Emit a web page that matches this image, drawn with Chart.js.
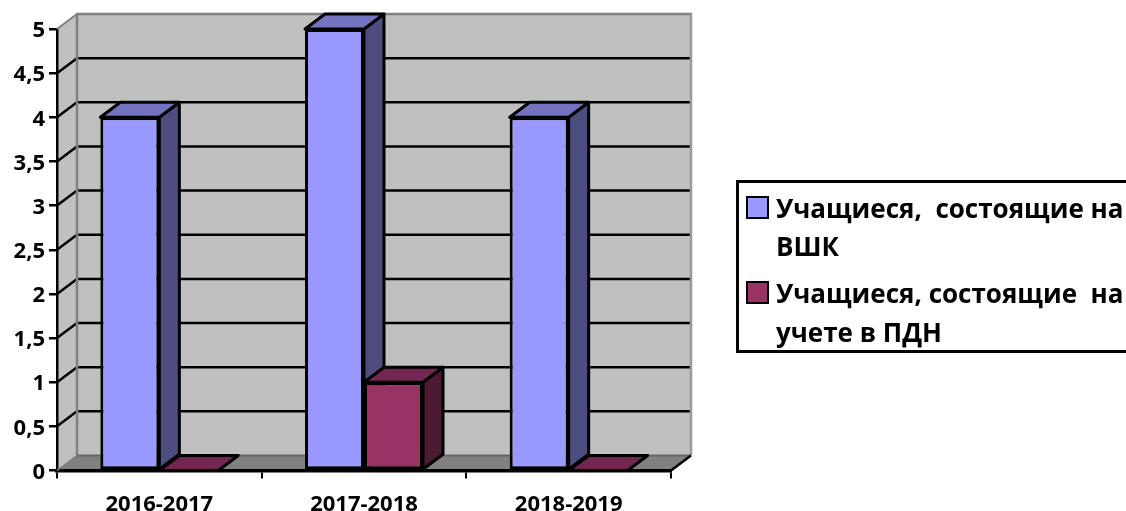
<!DOCTYPE html>
<html lang="ru">
<head>
<meta charset="utf-8">
<title>Учащиеся на учете</title>
<script src="https://cdn.jsdelivr.net/npm/chart.js@4"></script>
<style>
    html, body { margin: 0; padding: 0; background: #fff; overflow: hidden; }
    #wrap { position: relative; width: 1126px; height: 511px; overflow: hidden; }
    #legend { position: absolute; left: 736px; top: 180px; width: 420px; height: 173px; box-sizing: border-box;
        border: 3px solid #000; font: bold 26px "Open Sans", "Noto Sans", sans-serif; color: #000; }
    .swatch { position: absolute; left: 7px; width: 23px; height: 23px; box-sizing: border-box; border: 2.5px solid #000; }
    .line { position: absolute; left: 37px; white-space: pre; line-height: 30px; }
</style>
</head>
<body>
<div id="wrap">
    <canvas id="chart" width="1126" height="511"></canvas>
    <div id="legend"></div>
</div>
<script>
const categories = ['2016-2017', '2017-2018', '2018-2019'];
const seriesVshk = [4, 5, 4];
const seriesPdn = [0, 1, 0];
const labelVshk = ['Учащиеся,  состоящие на', 'ВШК'];
const labelPdn = ['Учащиеся, состоящие  на', 'учете в ПДН'];
const yTickLabels = ['0', '0,5', '1', '1,5', '2', '2,5', '3', '3,5', '4', '4,5', '5'];

const depthX = 20;
const depthY = 15;
const tickFont = { family: '"Open Sans", "Noto Sans", sans-serif', size: 22, weight: 'bold' };

function poly(ctx, pts, fill, stroke, width) {
    ctx.beginPath();
    pts.forEach((p, i) => i ? ctx.lineTo(p[0], p[1]) : ctx.moveTo(p[0], p[1]));
    ctx.closePath();
    if (fill) { ctx.fillStyle = fill; ctx.fill(); }
    if (stroke) { ctx.strokeStyle = stroke; ctx.lineWidth = width; ctx.lineJoin = 'round'; ctx.stroke(); }
}

function line(ctx, x1, y1, x2, y2, color, width) {
    ctx.beginPath();
    ctx.moveTo(x1, y1);
    ctx.lineTo(x2, y2);
    ctx.strokeStyle = color;
    ctx.lineWidth = width;
    ctx.stroke();
}

// Стенки и пол "объемной" диаграммы
const wallsPlugin = {
    id: 'walls',
    beforeDraw(chart) {
        const { ctx, chartArea: a } = chart;
        ctx.save();
        poly(ctx, [[a.left + depthX, a.top - depthY], [a.right + depthX, a.top - depthY], [a.right + depthX, a.bottom - depthY], [a.left + depthX, a.bottom - depthY]], '#c0c0c0');
        poly(ctx, [[a.left, a.top], [a.left + depthX, a.top - depthY], [a.left + depthX, a.bottom - depthY], [a.left, a.bottom]], '#c0c0c0');
        poly(ctx, [[a.left, a.bottom], [a.right, a.bottom], [a.right + depthX, a.bottom - depthY], [a.left + depthX, a.bottom - depthY]], '#808080');
        ctx.restore();
    },
    beforeDatasetsDraw(chart) {
        const { ctx, chartArea: a, scales } = chart;
        ctx.save();
        // линии сетки на стенках
        yTickLabels.forEach((t, i) => {
            const y = scales.y.getPixelForTick(i);
            if (i === 0 || i === yTickLabels.length - 1) return;
            line(ctx, a.left, y, a.left + depthX, y - depthY, '#000', 2.5);
            line(ctx, a.left + depthX, y - depthY, a.right + depthX, y - depthY, '#000', 2.5);
        });
        const gray = '#808080';
        line(ctx, a.left, a.top, a.left + depthX, a.top - depthY, gray, 2);
        line(ctx, a.left + depthX - 1, a.top - depthY, a.right + depthX + 1, a.top - depthY, gray, 2.5);
        line(ctx, a.left + depthX, a.top - depthY, a.left + depthX, a.bottom - depthY, gray, 2.5);
        line(ctx, a.right + depthX, a.top - depthY, a.right + depthX, a.bottom - depthY, '#999', 2.5);
        line(ctx, a.left + depthX, a.bottom - depthY, a.right + depthX, a.bottom - depthY, '#666', 2);
        line(ctx, a.left, a.bottom, a.left + depthX, a.bottom - depthY, gray, 1.5);
        line(ctx, a.right, a.bottom, a.right + depthX, a.bottom - depthY, '#000', 2.5);

        // верх и бок столбиков
        chart.data.datasets.forEach((ds, di) => {
            chart.getDatasetMeta(di).data.forEach(bar => {
                const l = bar.x - bar.width / 2;
                const r = bar.x + bar.width / 2;
                if (bar.base > bar.y) {
                    poly(ctx, [[r, bar.y], [r + depthX, bar.y - depthY], [r + depthX, bar.base - depthY], [r, bar.base]], ds.sideColor, '#000', 3);
                }
                poly(ctx, [[l, bar.y], [r, bar.y], [r + depthX, bar.y - depthY], [l + depthX, bar.y - depthY]], ds.topColor, '#000', 3);
            });
        });
        ctx.restore();
    }
};

const config = {
    type: 'bar',
    data: {
        labels: categories,
        datasets: [
            { label: labelVshk, data: seriesVshk, backgroundColor: '#9999ff', topColor: '#7373bf', sideColor: '#4d4d80', borderColor: '#000', borderWidth: 3, borderSkipped: false },
            { label: labelPdn, data: seriesPdn, backgroundColor: '#993366', topColor: '#732650', sideColor: '#4d1933', borderColor: '#000', borderWidth: 3, borderSkipped: false }
        ]
    },
    options: {
        responsive: false,
        animation: false,
        layout: { padding: { top: 29, right: 455, left: 0, bottom: 0 } },
        plugins: { legend: { display: false }, tooltip: { enabled: false } },
        datasets: { bar: { categoryPercentage: 0.5766, barPercentage: 1 } },
        scales: {
            x: {
                afterFit: s => { s.height = 40.5; },
                grid: { drawOnChartArea: false, drawTicks: true, tickLength: 8, color: '#000', lineWidth: 2 },
                border: { color: '#000', width: 3.5 },
                ticks: { color: '#000', font: tickFont, padding: 13, maxRotation: 0 }
            },
            y: {
                min: 0,
                max: 5,
                afterFit: s => { s.width = 57; },
                grid: { drawOnChartArea: false, drawTicks: true, tickLength: 8, color: '#000', lineWidth: 2.5 },
                border: { color: '#000', width: 2.5 },
                ticks: { stepSize: 0.5, color: '#000', font: tickFont, padding: 4, labelOffset: 2, callback: (v, i) => yTickLabels[i] }
            }
        }
    },
    plugins: [wallsPlugin]
};

new Chart(document.getElementById('chart').getContext('2d'), config);

// Легенда с переносом строк
const legend = document.getElementById('legend');
const rows = [
    { lines: labelVshk, color: '#9999ff', swatchTop: 13, lineTops: [10, 48] },
    { lines: labelPdn, color: '#993366', swatchTop: 98, lineTops: [95, 134] }
];
rows.forEach(row => {
    const sw = document.createElement('div');
    sw.className = 'swatch';
    sw.style.top = row.swatchTop + 'px';
    sw.style.background = row.color;
    legend.appendChild(sw);
    row.lines.forEach((text, i) => {
        const el = document.createElement('div');
        el.className = 'line';
        el.style.top = row.lineTops[i] + 'px';
        el.textContent = text;
        legend.appendChild(el);
    });
});
</script>
</body>
</html>
